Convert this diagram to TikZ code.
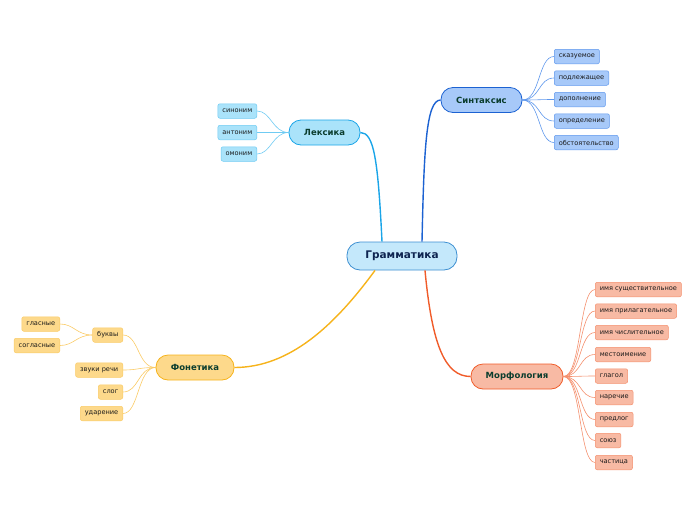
\documentclass[tikz,border=0pt]{standalone}
\usepackage{fontspec}
\setmainfont{DejaVu Sans}
\usepackage{tikz}
\usetikzlibrary{positioning}

\definecolor{rootF}{HTML}{C4E8FB}
\definecolor{rootD}{HTML}{3D8FD1}
\definecolor{rootT}{HTML}{0E2450}
\definecolor{synF}{HTML}{A7C9F9}
\definecolor{synD}{HTML}{1C62D2}
\definecolor{synL}{HTML}{5E97EC}
\definecolor{lexF}{HTML}{AAE3FA}
\definecolor{lexD}{HTML}{1AA5E8}
\definecolor{lexL}{HTML}{6FCBF3}
\definecolor{fonF}{HTML}{FDD98B}
\definecolor{fonD}{HTML}{F6B31B}
\definecolor{fonL}{HTML}{FACB66}
\definecolor{morF}{HTML}{F8BAA4}
\definecolor{morD}{HTML}{F05C2A}
\definecolor{morL}{HTML}{F4906E}
\definecolor{brT}{HTML}{0B3D2E}

\begin{document}
\begin{tikzpicture}[x=1pt, y=-1pt,
  root/.style={draw=rootD, fill=rootF, line width=0.8pt, rounded corners=13pt,
               minimum width=110pt, minimum height=28pt, inner sep=0pt,
               font=\fontsize{10.5}{12}\selectfont\bfseries, text=rootT},
  br/.style={line width=0.8pt, rounded corners=12pt, minimum height=25pt,
             inner sep=0pt, font=\fontsize{8.5}{10}\selectfont\bfseries, text=brT},
  lf/.style={line width=0.5pt, rounded corners=2pt, minimum height=14.5pt,
             inner xsep=4.5pt, inner ysep=0pt, font=\fontsize{6.6}{7}\selectfont,
             text=black!90},
  lnS/.style={draw=synL, line width=0.6pt},
  lnL/.style={draw=lexL, line width=0.6pt},
  lnF/.style={draw=fonL, line width=0.6pt},
  lnM/.style={draw=morL, line width=0.6pt}]
\useasboundingbox (0,0) rectangle (696,520);

% centre and branches
\node[root] (gram) at (402,256) {Грамматика};
\node[br, draw=synD, fill=synF, minimum width=81pt] (synt) at (481.5,100) {Синтаксис};
\node[br, draw=lexD, fill=lexF, minimum width=71pt] (lex)  at (324.5,132.5) {Лексика};
\node[br, draw=fonD, fill=fonF, minimum width=78pt] (fon)  at (195,367.5) {Фонетика};
\node[br, draw=morD, fill=morF, minimum width=92pt] (morf) at (517,376.5) {Морфология};

\draw[synD, line width=1.4pt] ([xshift=20pt]gram.north) .. controls (424,150) and (426,100) .. (synt.west);
\draw[lexD, line width=1.4pt] ([xshift=-20pt]gram.north) .. controls (378,160) and (374,132.5) .. (lex.east);
\draw[fonD, line width=1.4pt] ([xshift=-27pt]gram.south) .. controls (335,325) and (290,367.5) .. (fon.east);
\draw[morD, line width=1.4pt] ([xshift=23pt]gram.south) .. controls (432,345) and (445,376.5) .. (morf.west);

% Синтаксис
\foreach \n/\y/\t in {s1/56.5/сказуемое, s2/78/подлежащее, s3/99.5/дополнение,
                      s4/121/определение, s5/142.5/обстоятельство}{
  \node[lf, draw=synL, fill=synF, anchor=west] (\n) at (554,\y) {\t};
  \draw[lnS] (synt.east) .. controls +(18,0) and +(-16,0) .. (\n.west);
}

% Лексика
\foreach \n/\y/\t in {l1/111/синоним, l2/132.5/антоним, l3/154/омоним}{
  \node[lf, draw=lexL, fill=lexF, anchor=east] (\n) at (257,\y) {\t};
  \draw[lnL] (lex.west) .. controls +(-16,0) and +(14,0) .. (\n.east);
}

% Фонетика
\foreach \n/\y/\t in {f1/335/буквы, f2/370/звуки речи, f3/392/слог, f4/413.5/ударение}{
  \node[lf, draw=fonL, fill=fonF, anchor=east] (\n) at (123,\y) {\t};
  \draw[lnF] (fon.west) .. controls +(-18,0) and +(16,0) .. (\n.east);
}
\foreach \n/\y/\t in {f5/324/гласные, f6/345.5/согласные}{
  \node[lf, draw=fonL, fill=fonF, anchor=east] (\n) at (60,\y) {\t};
  \draw[lnF] (f1.west) .. controls +(-16,0) and +(14,0) .. (\n.east);
}

% Морфология
\foreach \n/\y/\t in {m1/289.5/имя существительное, m2/311/имя прилагательное,
                      m3/332.5/имя числительное, m4/354.5/местоимение, m5/376/глагол,
                      m6/397.5/наречие, m7/419.5/предлог, m8/440.5/союз, m9/462.5/частица}{
  \node[lf, draw=morL, fill=morF, anchor=west] (\n) at (595,\y) {\t};
  \draw[lnM] (morf.east) .. controls +(18,0) and +(-16,0) .. (\n.west);
}
\end{tikzpicture}
\end{document}
